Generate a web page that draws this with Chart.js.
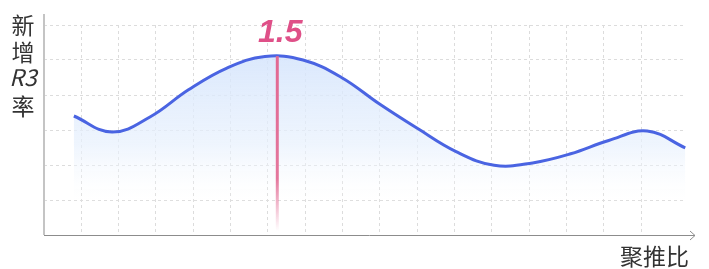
<!DOCTYPE html>
<html>
<head>
<meta charset="utf-8">
<script src="https://cdn.jsdelivr.net/npm/chart.js@4"></script>
<style>
  html, body { margin: 0; padding: 0; background: #fff; }
  #wrap { width: 709px; height: 269px; }
</style>
</head>
<body>
<div id="wrap"><canvas id="curveChart" width="709" height="269"></canvas></div>
<script>
// curve (x in grid units, y in grid units)
const xValues = [0.8, 1.82, 2.85, 3.87, 4.9, 5.92, 6.94, 7.97, 8.99, 10.01, 11.04, 12.06, 13.09, 14.11, 15.13, 16.16, 17.18];
const yValues = [3.4, 2.94, 3.38, 4.15, 4.77, 5.1, 5.0, 4.5, 3.74, 3.04, 2.38, 1.99, 2.06, 2.32, 2.7, 2.97, 2.49];
const peakX = 6.25;
const peakY = 5.11;
const peakLabel = "1.5";
const yTitle = ["新", "增", "R3", "率"];
const xTitle = "聚推比";

document.addEventListener("DOMContentLoaded", function () {
  const points = xValues.map((x, i) => ({ x: x, y: yValues[i] }));

  const overlay = {
    id: "overlay",
    afterDatasetsDraw(chart) {
      const ctx = chart.ctx;
      const xs = chart.scales.x, ys = chart.scales.y;
      const left = xs.getPixelForValue(0);
      const bottom = ys.getPixelForValue(0);

      // peak marker
      const px = xs.getPixelForValue(peakX);
      const py = ys.getPixelForValue(peakY);
      const g = ctx.createLinearGradient(0, py, 0, bottom - 4);
      g.addColorStop(0, "rgba(226,104,146,1)");
      g.addColorStop(0.7, "rgba(226,104,146,0.9)");
      g.addColorStop(1, "rgba(226,104,146,0)");
      ctx.save();
      ctx.strokeStyle = g;
      ctx.lineWidth = 3;
      ctx.beginPath();
      ctx.moveTo(px, py);
      ctx.lineTo(px, bottom - 4);
      ctx.stroke();

      ctx.fillStyle = "#df5088";
      ctx.font = "italic bold 32px 'Liberation Sans', Arial, sans-serif";
      ctx.textAlign = "center";
      ctx.textBaseline = "alphabetic";
      ctx.fillText(peakLabel, px + 3, 42);

      // axes
      ctx.strokeStyle = "#c4c4c4";
      ctx.lineWidth = 2;
      ctx.beginPath();
      ctx.moveTo(left, 14);
      ctx.lineTo(left, bottom);
      ctx.stroke();

      ctx.strokeStyle = "#8c8c8c";
      ctx.lineWidth = 1;
      ctx.beginPath();
      ctx.moveTo(left, bottom + 0.5);
      ctx.lineTo(695, bottom + 0.5);
      ctx.moveTo(690, bottom - 4);
      ctx.lineTo(695, bottom + 0.5);
      ctx.lineTo(690, bottom + 5);
      ctx.stroke();

      // titles
      ctx.fillStyle = "#333";
      ctx.textAlign = "center";
      ctx.textBaseline = "middle";
      const ty = [25, 52, 77, 106];
      yTitle.forEach((t, i) => {
        ctx.font = (t === "R3" ? "italic " : "") + "23px 'Noto Sans CJK SC', 'Noto Sans', sans-serif";
        ctx.fillText(t, 23, ty[i]);
      });
      ctx.font = "23px 'Noto Sans CJK SC', sans-serif";
      ctx.textAlign = "right";
      ctx.fillText(xTitle, 689, 256);
      ctx.restore();
    }
  };

  const ctx = document.getElementById("curveChart").getContext("2d");
  new Chart(ctx, {
    type: "line",
    data: {
      datasets: [{
        data: points,
        borderColor: "#4a64e2",
        borderWidth: 3,
        pointRadius: 0,
        tension: 0.4,
        fill: "origin",
        backgroundColor: function (c) {
          const area = c.chart.chartArea;
          if (!area) return "rgba(220,232,252,0.6)";
          const g = c.chart.ctx.createLinearGradient(0, area.top + 30, 0, area.bottom - 28);
          g.addColorStop(0, "rgba(212,228,252,0.85)");
          g.addColorStop(0.6, "rgba(232,241,253,0.7)");
          g.addColorStop(1, "rgba(255,255,255,0)");
          return g;
        }
      }]
    },
    options: {
      responsive: false,
      animation: false,
      layout: { padding: { left: 44, top: 25, right: 23, bottom: 34 } },
      plugins: { legend: { display: false }, tooltip: { enabled: false } },
      scales: {
        x: {
          type: "linear",
          min: 0,
          max: 17.2,
          ticks: { display: false, stepSize: 1 },
          afterBuildTicks: s => { s.ticks = s.ticks.filter(t => Number.isInteger(t.value) && t.value > 0); },
          border: { display: false, dash: [3, 3] },
          grid: { color: "#dcdcdc", lineWidth: 1, drawTicks: false }
        },
        y: {
          min: 0,
          max: 6,
          ticks: { display: false, stepSize: 1 },
          afterBuildTicks: s => { s.ticks = s.ticks.filter(t => t.value > 0); },
          border: { display: false, dash: [3, 3] },
          grid: { color: "#dcdcdc", lineWidth: 1, drawTicks: false }
        }
      }
    },
    plugins: [overlay]
  });
});
</script>
</body>
</html>
